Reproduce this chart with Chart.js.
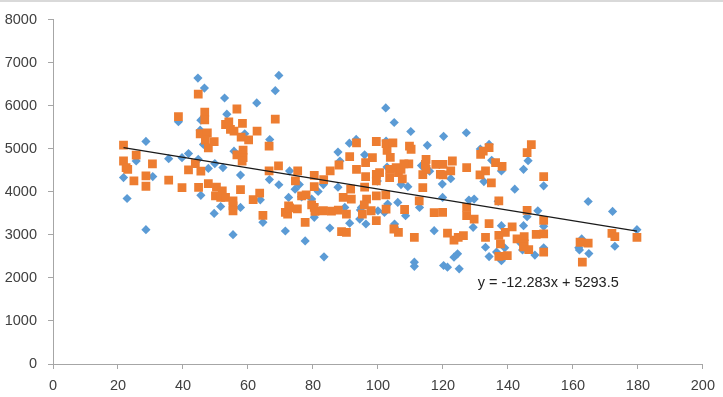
<!DOCTYPE html>
<html>
<head>
<meta charset="utf-8">
<script src="https://cdn.jsdelivr.net/npm/chart.js@4"></script>
<style>
  html, body { margin: 0; padding: 0; background: #fff; }
  #wrap { position: relative; width: 723px; height: 397px; }
  #topline { position: absolute; left: 0; top: 0; width: 723px; height: 2px; background: #d9d9d9; }
  canvas { position: absolute; left: 0; top: 0; }
</style>
</head>
<body>
<div id="wrap">
<canvas id="c" width="723" height="397"></canvas>
<div id="topline"></div>
</div>
<script>
// ---- data ----
const seriesBlueX = [21.7,22.8,25.6,28.6,28.6,30.7,35.6,38.6,39.7,41.7,44.6,46.6,45.5,45.3,46.3,44.7,45.5,47.8,49.8,49.6,51.6,52.3,52.8,53.5,55.7,57.7,57.7,55.4,59,62.7,63.8,64.6,66.7,66.6,68.4,69.5,69.5,71.5,72.8,72.5,74.5,75.8,76.5,77.6,79.6,80.4,81.6,83.2,83.4,85.2,87.7,88.3,87.7,89.8,91.2,93.3,95.9,91.3,94.4,94.6,94.9,96.3,99.8,100,102.4,102.5,102.8,103,102,105,105.1,105.1,106.1,107.1,108.5,109.2,110.1,111.2,111.2,112.8,113.4,115.2,115.9,117.3,119.8,119.9,120.2,120.2,121.4,122.4,123.4,124.5,125,127.2,128,129.6,129.3,131.5,132.6,133.1,134.2,134.2,135,136.5,137,138,138,138,139,142.1,144,144.5,144.8,144.8,145.9,146.2,148.3,149.2,151,151,151,161.8,162,162.7,164.7,164.9,172.2,172.9,179.7];
const seriesBlueY = [4331,3846,4717,5171,3121,4355,4771,5630,4794,4890,6643,6412,5665,5434,5101,4755,3920,4545,4656,3499,3660,4563,6181,5805,4945,4390,3637,3006,5350,6066,3815,3291,5214,4285,6350,6705,4165,3090,4486,3870,4062,4170,3885,2860,3831,3407,4008,4170,2490,3160,4925,4717,4108,3637,5130,5219,4860,3272,3368,3580,3637,3253,4250,3561,5950,5180,4575,3715,3522,5611,3253,3175,3754,4170,3445,4120,5402,2365,2270,3637,4610,5082,4480,3098,4180,3870,5290,2289,2249,4305,2481,2559,2211,5373,3808,3831,3175,4994,4239,2713,5101,2497,4732,2600,3780,4486,3214,2400,2700,4062,2800,2650,4524,3214,3422,4725,2530,3561,4139,3200,2700,2700,2651,2906,3776,2565,3545,2736,3121];

const seriesOrangeX = [21.7,21.7,22.5,23,25.6,24.9,28.6,28.6,30.6,35.6,38.6,39.7,41.7,43.8,44.7,45.5,44.8,46.7,46.7,45.3,47.5,46.9,47.8,49.6,47.8,50.3,50,52.1,51.6,53.1,54.1,54.6,55.7,56.6,58.3,57.9,60.2,62.8,58.5,56.6,58.5,58.2,57.7,53.1,55.4,55.4,55.4,61.6,63.6,64.6,66.5,68.4,69.4,66.5,71.5,72.5,72.2,72.8,75.2,75.3,74.6,76.5,77.9,77.6,79.6,80.4,80.6,80.4,80.4,83.3,83.2,85.3,85.7,87.8,88,88.8,90.3,90.3,89.3,91.8,91.6,91.3,93.4,93.4,96.2,96.2,95.9,98.3,99.5,99.5,99.5,99.5,99.5,100.5,97.9,95.2,96.5,95.8,102.4,102.5,102.5,102.8,104.6,103.8,103.6,103.6,105.6,106.3,107.1,104.9,106.3,108.2,109.7,110.2,109.5,108,107.5,111.2,112.7,113.8,113.8,114.8,114.6,114.8,117.8,119.2,117.3,119.9,120,120,122.4,122.9,121.4,123.4,124.7,126.3,127.3,127.3,127.3,129.6,131.6,132.4,134.2,131.4,133.1,134.9,133.1,134.2,136.2,138.2,137.2,137.2,137.7,139.2,141.3,137.2,139.8,142.8,145,145,144.8,146.4,145.9,145.9,147.2,148.7,151,151,151,151,162.2,164.7,162.9,172,172.9,179.7];
const seriesOrangeY = [5087,4717,4563,4524,4856,4254,4370,4130,4652,4275,5750,4100,4510,4656,6273,4480,4105,5853,5670,5350,5372,5200,5020,5165,4190,4110,3908,4023,3870,5565,5627,5449,5410,5925,5590,5272,5210,5410,4970,4860,4794,4717,4050,3870,3676,3561,3792,3820,3969,3452,5064,5690,4601,4486,3522,3676,3484,3630,3607,4486,4254,3908,3931,3291,3700,3640,3545,4385,4123,4285,3561,4486,3550,3575,4624,3075,3059,3484,3870,3831,4062,4820,5140,4524,4678,4355,4108,4794,5170,4408,4254,3908,3330,4447,3561,3484,3830,3700,3931,3600,5120,4963,5140,4800,4524,4331,4563,4447,4524,3137,3059,3590,5064,4990,4650,4650,4300,2944,3792,4400,4100,4755,4640,4524,4640,4408,3515,3522,4640,4393,4486,4717,3040,2880,2944,2983,4563,3637,3445,3368,4871,4948,5030,4393,4486,4210,2944,3260,4678,4590,3792,2990,2790,3059,3185,2500,2520,2906,2960,2790,2720,2660,3570,4910,5095,3010,3021,4355,3338,2597,2829,2810,2365,3037,2960,2944];

// trendline coefficients shown on the chart
const trendSlope = -12.283;
const trendIntercept = 5293.5;
const trendLabel = 'y = -12.283x + 5293.5';

// axis ticks
const xTickMin = 0, xTickMax = 200, xTickStep = 20;
const yTickMin = 0, yTickMax = 8000, yTickStep = 1000;

// ---- build chart structures ----
const toPoints = (xs, ys) => xs.map((x, i) => ({ x: x, y: ys[i] }));
const allX = seriesBlueX.concat(seriesOrangeX);
const trendX0 = Math.min(...allX), trendX1 = Math.max(...allX);
const trendPoints = [
  { x: trendX0, y: trendSlope * trendX0 + trendIntercept },
  { x: trendX1, y: trendSlope * trendX1 + trendIntercept }
];

const AXIS_COLOR = '#a6a6a6';
const TEXT_COLOR = '#404040';
const FONT = 'Liberation Sans, Arial, sans-serif';

const labelPlugin = {
  id: 'trendLabel',
  afterDatasetsDraw(chart) {
    const { ctx, scales } = chart;
    const px = scales.x.getPixelForValue(152.4);
    const py = scales.y.getPixelForValue(1890);
    ctx.save();
    ctx.font = '14.5px ' + FONT;
    ctx.fillStyle = '#222';
    ctx.textAlign = 'center';
    ctx.textBaseline = 'middle';
    ctx.fillText(trendLabel, px, py);
    ctx.restore();
  }
};

new Chart(document.getElementById('c'), {
  type: 'scatter',
  data: {
    datasets: [
      {
        label: 'Trend',
        type: 'line',
        data: trendPoints,
        borderColor: '#1a1a1a',
        borderWidth: 1.2,
        pointRadius: 0,
        fill: false,
        order: 1
      },
      {
        label: 'Series 2',
        data: toPoints(seriesOrangeX, seriesOrangeY),
        pointStyle: 'rect',
        pointRadius: 6.2,
        pointHoverRadius: 6.2,
        backgroundColor: '#ED7D31',
        borderColor: '#ED7D31',
        borderWidth: 0,
        order: 2
      },
      {
        label: 'Series 1',
        data: toPoints(seriesBlueX, seriesBlueY),
        pointStyle: 'rectRot',
        pointRadius: 4.6,
        pointHoverRadius: 4.6,
        backgroundColor: '#5B9BD5',
        borderColor: '#5B9BD5',
        borderWidth: 0,
        order: 3
      }
    ]
  },
  options: {
    responsive: false,
    animation: false,
    events: [],
    layout: { padding: { top: 18, right: 16, left: 0, bottom: 0 } },
    plugins: {
      legend: { display: false },
      tooltip: { enabled: false }
    },
    scales: {
      x: {
        type: 'linear',
        min: xTickMin, max: xTickMax,
        ticks: { stepSize: xTickStep, color: TEXT_COLOR, font: { family: FONT, size: 14.5 }, padding: 8, maxRotation: 0, callback: v => String(v) },
        grid: { display: true, drawOnChartArea: false, drawTicks: true, tickLength: 5, color: AXIS_COLOR },
        border: { display: true, color: AXIS_COLOR, width: 1 },
        afterFit(scale) { scale.height = 33; }
      },
      y: {
        type: 'linear',
        min: yTickMin, max: yTickMax,
        ticks: { stepSize: yTickStep, color: TEXT_COLOR, font: { family: FONT, size: 14.5 }, padding: 11, callback: v => String(v) },
        grid: { display: true, drawOnChartArea: false, drawTicks: true, tickLength: 5, color: AXIS_COLOR },
        border: { display: true, color: AXIS_COLOR, width: 1 },
        afterFit(scale) { scale.width = 53; }
      }
    }
  },
  plugins: [labelPlugin]
});
</script>
</body>
</html>
